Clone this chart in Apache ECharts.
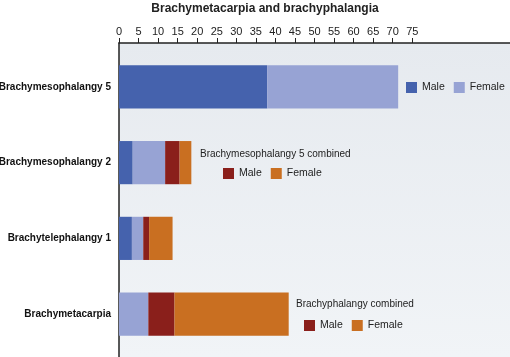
<!DOCTYPE html>
<html><head><meta charset="utf-8">
<script src="https://cdn.jsdelivr.net/npm/echarts@6/dist/echarts.min.js"></script>
<style>html,body{margin:0;padding:0;background:#fff}#c{width:510px;height:357px}</style>
</head><body><div id="c"></div>
<script>
const categories = ['Brachymesophalangy 5', 'Brachymesophalangy 2', 'Brachytelephalangy 1', 'Brachymetacarpia'];
const maleValues = [37.9, 3.5, 3.3, 0];
const femaleValues = [33.5, 8.3, 2.9, 7.5];
const maleCombinedValues = [0, 3.7, 1.5, 6.7];
const femaleCombinedValues = [0, 3.0, 6.0, 29.2];
const tickLabels = [0, 5, 10, 15, 20, 25, 30, 35, 40, 45, 50, 55, 60, 65, 70, 75];

const FONT = '"Liberation Sans", Arial, sans-serif';
const C_BLUE = '#4562ad', C_LBLUE = '#97a3d4', C_RED = '#8a1f1b', C_ORANGE = '#c96f21';

const chart = echarts.init(document.getElementById('c'));
const legendCommon = {
  orient: 'horizontal', icon: 'rect', itemWidth: 11, itemHeight: 11, itemGap: 9,
  padding: 0, selectedMode: false, width: 140,
  textStyle: { fontSize: 10.5, color: '#222', fontFamily: FONT },
  formatter: n => n.indexOf('Female') === 0 ? 'Female' : 'Male'
};
chart.setOption({
  animation: false,
  textStyle: { fontFamily: FONT },
  title: [
    { text: 'Brachymetacarpia and brachyphalangia', left: 265, textAlign: 'center', top: 2.5, padding: 0,
      textStyle: { fontSize: 12, fontWeight: 'bold', color: '#222', fontFamily: FONT } },
    { text: 'Brachymesophalangy 5 combined', left: 200, top: 149, padding: 0,
      textStyle: { fontSize: 10, fontWeight: 'normal', color: '#222', fontFamily: FONT } },
    { text: 'Brachyphalangy combined', left: 296, top: 299.5, padding: 0,
      textStyle: { fontSize: 10, fontWeight: 'normal', color: '#222', fontFamily: FONT } }
  ],
  legend: [
    Object.assign({}, legendCommon, { data: ['Male', 'Female'], left: 406, top: 82 }),
    Object.assign({}, legendCommon, { data: ['Male combined', 'Female combined'], left: 223, top: 168 }),
    Object.assign({}, legendCommon, { data: ['Male combined', 'Female combined'], left: 304, top: 320 })
  ],
  grid: [
    { left: 119, right: 0, top: 49, bottom: 5, containLabel: false, outerBoundsMode: 'none' },
    { left: 119, right: 0, top: 43, bottom: 0, show: true, borderWidth: 0, outerBoundsMode: 'none',
      backgroundColor: new echarts.graphic.LinearGradient(0, 0, 0, 1, [
        { offset: 0, color: '#e6eaef' }, { offset: 1, color: '#f1f4f7' }]) }
  ],
  xAxis: [
    { type: 'value', gridIndex: 0, position: 'top', offset: 6, min: 0, max: 100, interval: 5,
      splitLine: { show: false },
      axisLine: { show: true, lineStyle: { color: '#222', width: 1.5 } },
      axisTick: { show: true, length: 5, customValues: tickLabels, lineStyle: { color: '#222' } },
      axisLabel: { customValues: tickLabels, fontSize: 11, color: '#222', margin: 6, fontFamily: FONT } },
    { type: 'value', gridIndex: 1, min: 0, max: 100, show: false }
  ],
  yAxis: [
    { type: 'category', gridIndex: 0, data: categories, inverse: true,
      axisLine: { show: false }, axisTick: { show: false },
      axisLabel: { fontSize: 10, fontWeight: 'bold', color: '#111', margin: 8, fontFamily: FONT } },
    { type: 'value', gridIndex: 1, min: 0, max: 1,
      axisLine: { show: true, lineStyle: { color: '#222', width: 1.5 } },
      axisTick: { show: false }, axisLabel: { show: false }, splitLine: { show: false } }
  ],
  series: [
    { name: 'Male', type: 'bar', stack: 's', data: maleValues, barWidth: '57%', itemStyle: { color: C_BLUE } },
    { name: 'Female', type: 'bar', stack: 's', data: femaleValues, itemStyle: { color: C_LBLUE } },
    { name: 'Male combined', type: 'bar', stack: 's', data: maleCombinedValues, itemStyle: { color: C_RED } },
    { name: 'Female combined', type: 'bar', stack: 's', data: femaleCombinedValues, itemStyle: { color: C_ORANGE } }
  ]
});
</script></body></html>
